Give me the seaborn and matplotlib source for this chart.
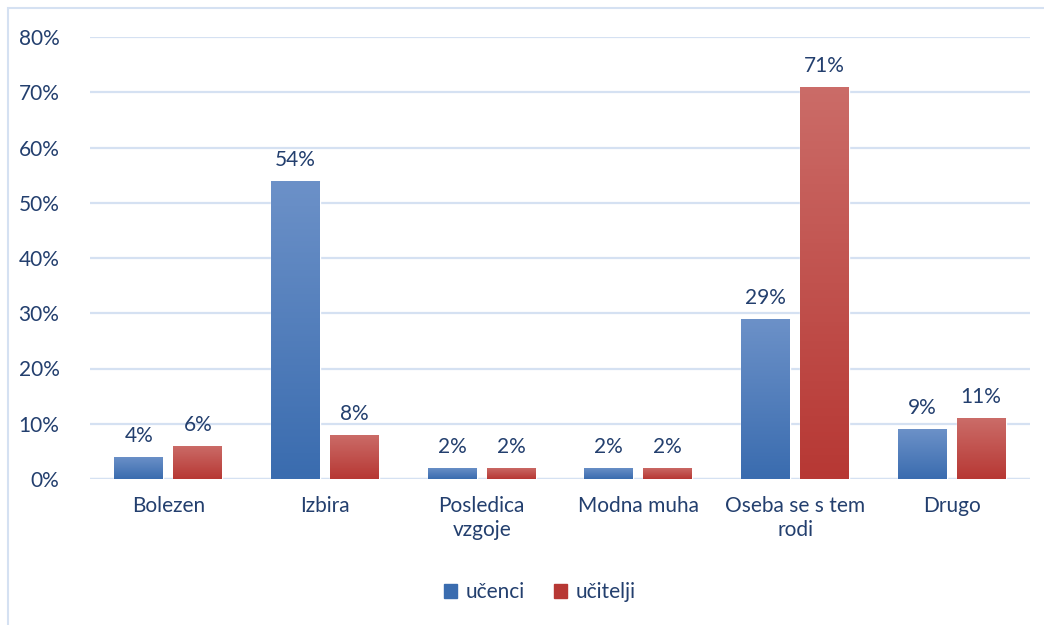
import matplotlib.pyplot as plt
import matplotlib.patches as mpatches
import numpy as np
import pandas as pd
import seaborn as sns
from matplotlib.colors import LinearSegmentedColormap

categories = ["Bolezen", "Izbira", "Posledica\nvzgoje", "Modna muha",
              "Oseba se s tem\nrodi", "Drugo"]
ucenci = [4, 54, 2, 2, 29, 9]
ucitelji = [6, 8, 2, 2, 71, 11]
series = ["učenci", "učitelji"]
yticks = [0, 10, 20, 30, 40, 50, 60, 70, 80]

TEXT = "#233F6E"
GRID = "#D5E1F2"
grads = {
    "učenci": ("#6C91C8", "#3A6CAF"),
    "učitelji": ("#CB6C68", "#B73834"),
}

df = pd.DataFrame({
    "cat": categories * 2,
    "val": ucenci + ucitelji,
    "who": [series[0]] * len(categories) + [series[1]] * len(categories),
})

sns.set_style("white")
plt.rcParams["font.family"] = ["Lato", "DejaVu Sans"]

fig = plt.figure(figsize=(10.44, 6.25), dpi=100)
ax = fig.add_axes([0.0862, 0.2336, 0.9004, 0.7072])

sns.barplot(data=df, x="cat", y="val", hue="who", order=categories,
            hue_order=series, palette=[grads[s][1] for s in series],
            width=0.753, gap=0.17, ax=ax, legend=False, saturation=1)

ax.set_yticks(yticks)
ax.set_yticklabels([f"{t}%" for t in yticks])
ax.yaxis.grid(True, color=GRID, linewidth=1.6)
ax.set_axisbelow(True)
for s in ax.spines.values():
    s.set_visible(False)
ax.axhline(0, color=GRID, linewidth=1.6, zorder=0.5)
ax.tick_params(axis="y", length=0, pad=22, labelsize=15, labelcolor=TEXT)
ax.tick_params(axis="x", length=0, pad=12, labelsize=15, labelcolor=TEXT)
for lab in ax.get_xticklabels():
    lab.set_linespacing(1.3)
ax.set_xlabel("")
ax.set_ylabel("")

# gradient fill + value labels
for cont, name in zip(ax.containers, series):
    cmap = LinearSegmentedColormap.from_list(name, [grads[name][1], grads[name][0]])
    for bar in cont:
        x0, y0 = bar.get_x(), bar.get_y()
        w, h = bar.get_width(), bar.get_height()
        g = np.linspace(0, 1, 100).reshape(-1, 1)
        im = ax.imshow(g, cmap=cmap, origin="lower", aspect="auto",
                       extent=[x0, x0 + w, y0, y0 + h], zorder=bar.get_zorder())
        im.set_clip_path(bar)
        ax.annotate(f"{h:.0f}%", (x0 + w / 2, h), xytext=(0, 8),
                    textcoords="offset points", ha="center", va="bottom",
                    fontsize=15, color=TEXT)
ax.set_xlim(-0.5, len(categories) - 0.5)
ax.set_ylim(0, 80)

handles = [mpatches.Patch(color=grads[s][1], label=s) for s in series]
fig.legend(handles=handles, loc="center", bbox_to_anchor=(0.517, 0.053),
           ncol=2, frameon=False, fontsize=15, labelcolor=TEXT,
           handlelength=0.65, handleheight=0.65, handletextpad=0.4,
           columnspacing=1.4)

# chart border
fig.add_artist(mpatches.Rectangle((8 / 1044, -0.1), 1.2, 1 - 8 / 625 + 0.1,
                                  transform=fig.transFigure, fill=False,
                                  edgecolor=GRID, linewidth=1.5))

fig.savefig("out.png", dpi=100, facecolor="white")
